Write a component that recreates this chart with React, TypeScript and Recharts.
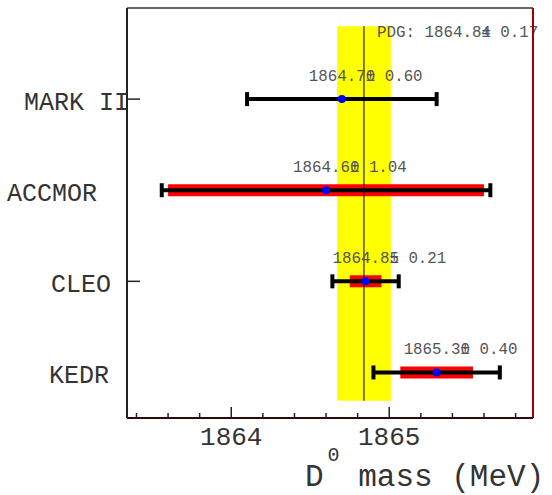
import { ComposedChart, Scatter, ErrorBar, XAxis, YAxis, ReferenceArea, ReferenceLine } from 'recharts'

const experiments = ['MARK II', 'ACCMOR', 'CLEO', 'KEDR']
const masses = [1864.7, 1864.6, 1864.85, 1865.3]
const totalErrors = [0.6, 1.04, 0.21, 0.4]
const statErrors = [0, 1.0, 0.1, 0.23]
const tickedExperiments = ['MARK II', 'CLEO']

const pdgMass = 1864.84
const pdgError = 0.17

const massTicks = [1863.4, 1863.6, 1863.8, 1864, 1864.2, 1864.4, 1864.6, 1864.8, 1865, 1865.2, 1865.4, 1865.6, 1865.8]
const massLabels = [1864, 1865]
const massDomain = [1863.34, 1865.91]
const rowDomain = [0.5, 5.0]
const bandRows = [0.69, 4.8]

// where ROOT happened to put each name (left edge, px)
const nameLeft: Record<string, number> = { 'MARK II': 24, ACCMOR: 7, CLEO: 51, KEDR: 49 }

const FONT = '"Liberation Mono", "Courier New", monospace'

const points = experiments.map((name, i) => ({
    name,
    mass: masses[i],
    row: experiments.length - i,
    total: totalErrors[i],
    stat: statErrors[i],
}))

function MassTick({ x, y, payload }: any) {
    const major = massLabels.includes(payload.value)
    return (
        <g>
            <line x1={x} x2={x} y1={y} y2={y - (major ? 11 : 5)} stroke="#222" strokeWidth={1.5} />
            {major && (
                <text x={x} y={y + 27} textAnchor="middle" fontFamily={FONT} fontSize={26} fill="#333">
                    {payload.value}
                </text>
            )}
        </g>
    )
}

function NameTick({ x, y, payload }: any) {
    const name = experiments[experiments.length - payload.value]
    return (
        <g>
            {tickedExperiments.includes(name) && (
                <line x1={x} x2={x + 13} y1={y} y2={y} stroke="#222" strokeWidth={1.5} />
            )}
            <text x={nameLeft[name]} y={y + 11} fontFamily={FONT} fontSize={25} fill="#333">
                {name}
            </text>
        </g>
    )
}

function MassTitle({ viewBox }: any) {
    const right = viewBox.x + viewBox.width
    return (
        <text x={right - 228} y={viewBox.y + 68} fontFamily={FONT} fontSize={31} fill="#333">
            D
            <tspan dx={4} dy={-25} fontSize={20}>0</tspan>
            <tspan dy={25} fontSize={31}>{' mass (MeV)'}</tspan>
        </text>
    )
}

function PdgLabel({ viewBox }: any) {
    return (
        <text x={viewBox.x + 40} y={viewBox.y + 10.5} fontFamily={FONT} fontSize={15.8} fill="#555">
            {`PDG: ${pdgMass.toFixed(2)}`}
            <tspan dx="-0.6em">{`± ${pdgError.toFixed(2)}`}</tspan>
        </text>
    )
}

function MassPoint({ cx, cy, payload }: any) {
    return (
        <g>
            <circle cx={cx} cy={cy} r={4} fill="#0000ff" />
            <text x={cx - 33} y={cy - 18} fontFamily={FONT} fontSize={15.8} fill="#555">
                {payload.mass.toFixed(2)}
                <tspan dx="-0.6em">{`± ${payload.total.toFixed(2)}`}</tspan>
            </text>
        </g>
    )
}

export default function App() {
    return (
        <div style={{ position: 'absolute', left: 0, top: 0, background: '#fff' }}>
            <ComposedChart width={552} height={495} margin={{ top: 8, right: 19, bottom: 0, left: 0 }}>
                <XAxis
                    type="number"
                    dataKey="mass"
                    domain={massDomain}
                    ticks={massTicks}
                    interval={0}
                    height={77}
                    tickSize={0}
                    tickMargin={0}
                    tickLine={false}
                    tick={<MassTick />}
                    axisLine={{ stroke: '#2b0a0a', strokeWidth: 2 }}
                    label={<MassTitle />}
                />
                <YAxis
                    type="number"
                    dataKey="row"
                    domain={rowDomain}
                    ticks={[1, 2, 3, 4]}
                    interval={0}
                    width={127}
                    tickSize={0}
                    tickMargin={0}
                    tickLine={false}
                    tick={<NameTick />}
                    axisLine={{ stroke: '#222', strokeWidth: 2 }}
                />
                <ReferenceArea
                    x1={pdgMass - pdgError}
                    x2={pdgMass + pdgError}
                    y1={bandRows[0]}
                    y2={bandRows[1]}
                    fill="#ffff00"
                    fillOpacity={1}
                    stroke="none"
                    label={<PdgLabel />}
                />
                <Scatter data={points} isAnimationActive={false} shape={<MassPoint />}>
                    <ErrorBar dataKey="stat" direction="x" stroke="#ff0000" strokeWidth={12} width={0} isAnimationActive={false} />
                    <ErrorBar dataKey="total" direction="x" stroke="#000" strokeWidth={4} width={7} isAnimationActive={false} />
                </Scatter>
                <ReferenceLine
                    segment={[{ x: pdgMass, y: bandRows[0] }, { x: pdgMass, y: bandRows[1] }]}
                    stroke="#000"
                    strokeWidth={1}
                />
                <ReferenceLine y={rowDomain[1]} stroke="#666" strokeWidth={2} ifOverflow="visible" />
                <ReferenceLine x={massDomain[1]} stroke="#a00000" strokeWidth={2} ifOverflow="visible" />
            </ComposedChart>
        </div>
    )
}
